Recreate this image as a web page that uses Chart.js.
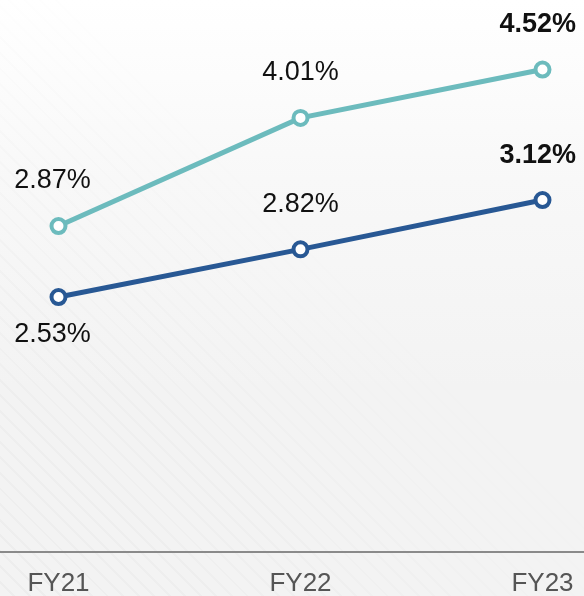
<!DOCTYPE html>
<html>
<head>
<meta charset="utf-8">
<script src="https://cdn.jsdelivr.net/npm/chart.js@4"></script>
<style>
  html, body { margin:0; padding:0; }
  body {
    width:584px; height:596px; overflow:hidden;
    background: linear-gradient(to bottom, #ffffff 0%, #f8f8f8 30%, #f3f3f3 65%, #f3f3f3 100%);
  }
  #wrap { position:relative; width:584px; height:596px; }
  #hatch {
    position:absolute; left:0; top:0; width:584px; height:596px;
    background: repeating-linear-gradient(45deg, rgba(0,0,0,0) 0px, rgba(0,0,0,0) 9px, rgba(0,0,0,0.025) 9px, rgba(0,0,0,0.025) 11px);
    -webkit-mask-image: linear-gradient(to top right, rgba(0,0,0,1) 0%, rgba(0,0,0,0.6) 30%, rgba(0,0,0,0) 60%);
    mask-image: linear-gradient(to top right, rgba(0,0,0,1) 0%, rgba(0,0,0,0.6) 30%, rgba(0,0,0,0) 60%);
  }
  canvas { position:absolute; left:0; top:0; }
</style>
</head>
<body>
<div id="wrap"><div id="hatch"></div><canvas id="c" width="584" height="596"></canvas></div>
<script>
const categories = ['FY21', 'FY22', 'FY23'];
const seriesTeal = [2.87, 4.01, 4.52];
const seriesBlue = [2.53, 2.82, 3.12];
const labelsTeal = ['2.87%', '4.01%', '4.52%'];
const labelsBlue = ['2.53%', '2.82%', '3.12%'];
const placeTeal = ['above', 'above', 'above'];
const placeBlue = ['below', 'above', 'above'];
const boldIdx = [2];

const TEAL = 'rgb(108,187,189)';
const BLUE = 'rgb(40,88,148)';

const valueLabels = {
  id: 'valueLabels',
  afterDatasetsDraw(chart) {
    const ctx = chart.ctx;
    chart.data.datasets.forEach((ds, di) => {
      const meta = chart.getDatasetMeta(di);
      meta.data.forEach((pt, i) => {
        const txt = ds._labels[i];
        const bold = boldIdx.includes(i);
        ctx.save();
        ctx.font = (bold ? 'bold ' : '') + '27px "Liberation Sans", Arial, sans-serif';
        ctx.fillStyle = '#111';
        ctx.textAlign = 'center';
        ctx.textBaseline = 'middle';
        const w = ctx.measureText(txt).width;
        let x = pt.x;
        x = Math.min(x, chart.width - w / 2 - 8);
        if (i === 0) x -= 6;
        const y = ds._place[i] === 'above' ? pt.y - 45 : pt.y + 38;
        ctx.fillText(txt, x, y);
        ctx.restore();
      });
    });
  }
};

new Chart(document.getElementById('c'), {
  type: 'line',
  data: {
    datasets: [
      {
        data: seriesTeal.map((v, i) => ({ x: i, y: v })),
        _labels: labelsTeal, _place: placeTeal,
        borderColor: TEAL, backgroundColor: '#ffffff',
        pointBorderColor: TEAL, pointBackgroundColor: '#ffffff',
        borderWidth: 5, pointRadius: 7, pointBorderWidth: 4,
        yAxisID: 'y', clip: false, tension: 0
      },
      {
        data: seriesBlue.map((v, i) => ({ x: i, y: v })),
        _labels: labelsBlue, _place: placeBlue,
        borderColor: BLUE, backgroundColor: '#ffffff',
        pointBorderColor: BLUE, pointBackgroundColor: '#ffffff',
        borderWidth: 5, pointRadius: 7, pointBorderWidth: 4,
        yAxisID: 'y2', clip: false, tension: 0
      }
    ]
  },
  options: {
    responsive: false,
    animation: false,
    layout: { padding: 0, autoPadding: false },
    plugins: { legend: { display: false }, tooltip: { enabled: false } },
    scales: {
      x: {
        type: 'linear',
        min: -0.2417, max: 2.1715,
        afterBuildTicks: (s) => { s.ticks = categories.map((c, i) => ({ value: i })); },
        afterFit: (s) => { s.height = 44; s.paddingLeft = 0; s.paddingRight = 0; s.paddingTop = 0; s.paddingBottom = 0; },
        grid: { display: false },
        border: { display: true, color: '#8a8a8a', width: 2 },
        ticks: {
          padding: 8,
          maxRotation: 0,
          autoSkip: false,
          color: '#555555',
          font: { family: '"Liberation Sans", Arial, sans-serif', size: 26, lineHeight: 31 / 26 },
          callback: (v) => categories[v]
        }
      },
      y: { type: 'linear', display: false, min: -0.567, max: 5.253,
           afterFit: (s) => { s.paddingTop = 0; s.paddingBottom = 0; } },
      y2: { type: 'linear', display: false, min: 0.979, max: 4.337,
           afterFit: (s) => { s.paddingTop = 0; s.paddingBottom = 0; } }
    }
  },
  plugins: [valueLabels]
});
</script>
</body>
</html>
